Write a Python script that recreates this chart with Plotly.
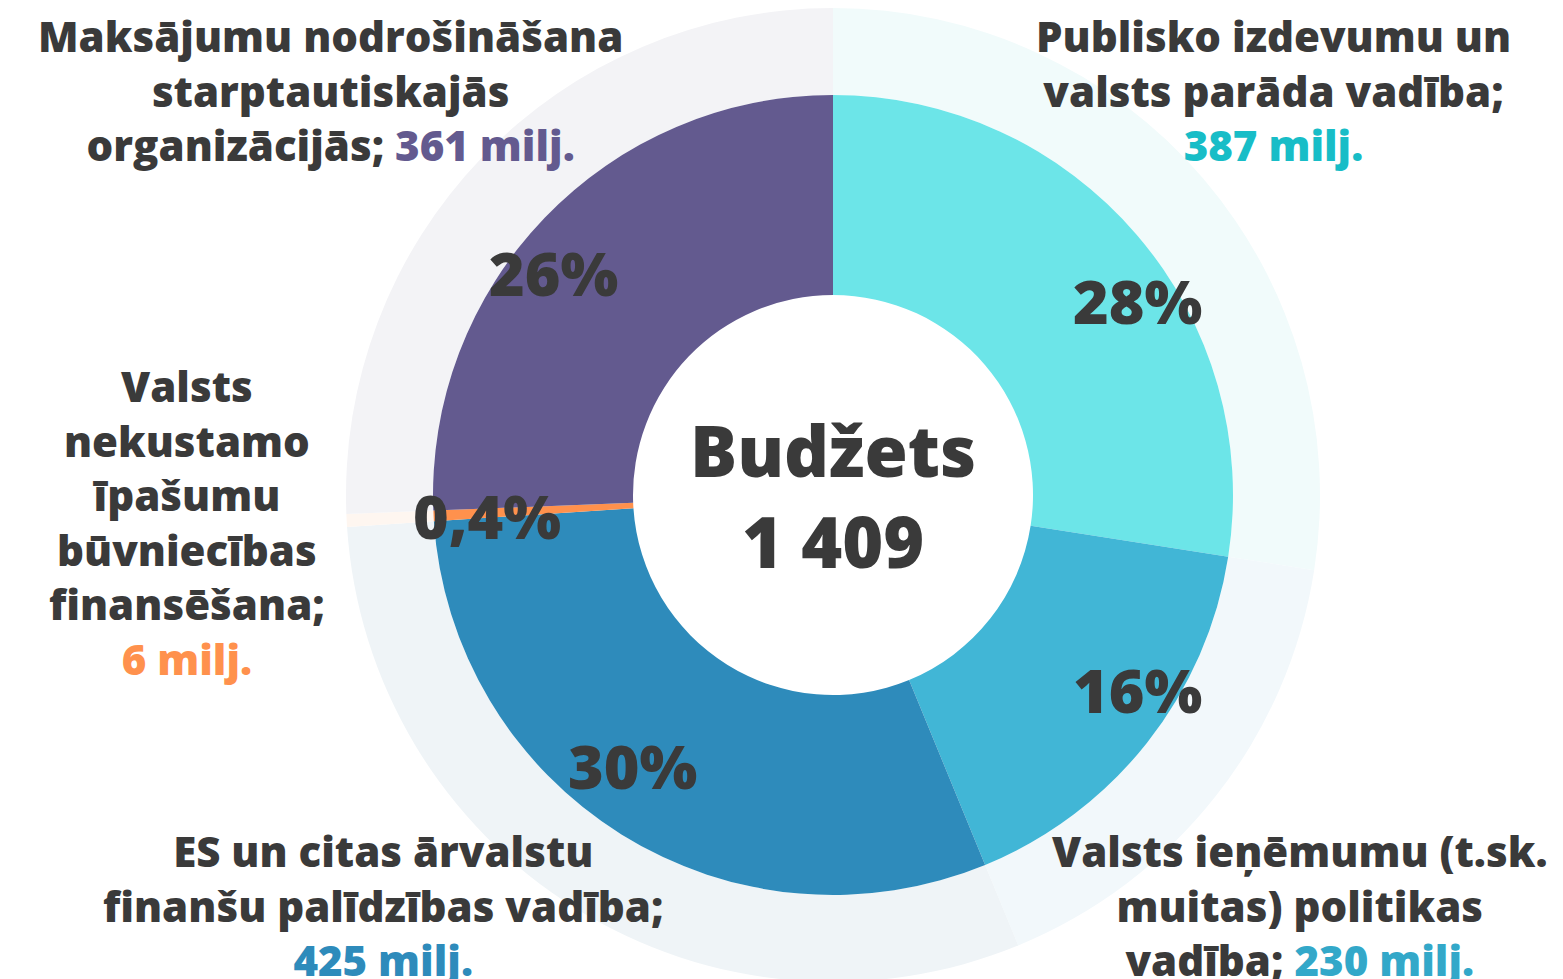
import plotly.graph_objects as go

W, H = 1563, 979
OFF = 8  # default page body margin

categories = [
    "Publisko izdevumu un<br>valsts parāda vadība;",
    "Valsts ieņēmumu (t.sk.<br>muitas) politikas<br>vadība;",
    "ES un citas ārvalstu<br>finanšu palīdzības vadība;",
    "Valsts<br>nekustamo<br>īpašumu<br>būvniecības<br>finansēšana;",
    "Maksājumu nodrošināšana<br>starptautiskajās<br>organizācijās;",
]
values = [387, 230, 425, 6, 361]
value_labels = ["387 milj.", "230 milj.", "425 milj.", "6 milj.", "361 milj."]
value_on_new_line = [True, False, True, True, False]
pct_labels = ["28%", "16%", "30%", "0,4%", "26%"]
total_label = "Budžets<br>1 409"

colors = ["#6CE5E8", "#41B6D6", "#2E8BBB", "#FF914D", "#635A8F"]
pale_colors = ["#F1FBFB", "#F2F8FB", "#EFF4F7", "#FEF6F0", "#F3F3F6"]
value_colors = ["#18BDC7", "#33A8C9", "#2E8BBB", "#FF914D", "#635A8F"]

TEXT = "#3A3A3A"
FONT = "Open Sans"

# screen-pixel geometry
cx, cy = 833, 495
r_in = 400
r_out = cy - OFF  # outer ring reaches the top of the page


def px_x(x):
    return (x - OFF) / W


def px_y(y):
    return (H - (y - OFF)) / H


fig = go.Figure()

fig.add_trace(go.Pie(
    values=values, sort=False, direction="clockwise", rotation=0,
    marker=dict(colors=pale_colors, line=dict(width=0)),
    hole=r_in / r_out, textinfo="none", hoverinfo="skip", showlegend=False,
    domain=dict(x=[px_x(cx - r_out), px_x(cx + r_out)],
                y=[px_y(cy + r_out), px_y(cy - r_out)]),
))

fig.add_trace(go.Pie(
    values=values, sort=False, direction="clockwise", rotation=0,
    marker=dict(colors=colors, line=dict(width=0)),
    hole=0.5, textinfo="none", showlegend=False,
    domain=dict(x=[px_x(cx - r_in), px_x(cx + r_in)],
                y=[px_y(cy + r_in), px_y(cy - r_in)]),
))

annotations = []

pct_pos = [(1137, 300), (1137, 690), (632, 765), (487, 515), (553, 272)]
for txt, (x, y) in zip(pct_labels, pct_pos):
    annotations.append(dict(
        x=px_x(x), y=px_y(y), xref="paper", yref="paper", text=txt,
        showarrow=False, xanchor="center", yanchor="middle",
        font=dict(family=FONT, size=61, color=TEXT, weight=800)))

lab_pos = [(1273, 90), (1300, 905), (383, 905), (187, 522), (330, 90)]
for cat, val, vc, nl, (x, y) in zip(categories, value_labels, value_colors,
                                     value_on_new_line, lab_pos):
    sep = "<br>" if nl else " "
    text = f"{cat}{sep}<span style='color:{vc}'>{val}</span>"
    annotations.append(dict(
        x=px_x(x), y=px_y(y), xref="paper", yref="paper", text=text,
        showarrow=False, xanchor="center", yanchor="middle", align="center",
        font=dict(family=FONT, size=42, color=TEXT, weight=800)))

annotations.append(dict(
    x=px_x(cx), y=px_y(495), xref="paper", yref="paper", text=total_label,
    showarrow=False, xanchor="center", yanchor="middle", align="center",
    font=dict(family=FONT, size=70, color=TEXT, weight=800)))

fig.update_layout(
    width=W, height=H, margin=dict(l=0, r=0, t=0, b=0),
    paper_bgcolor="white", plot_bgcolor="white",
    annotations=annotations, showlegend=False,
)

fig.write_html("out.html")
